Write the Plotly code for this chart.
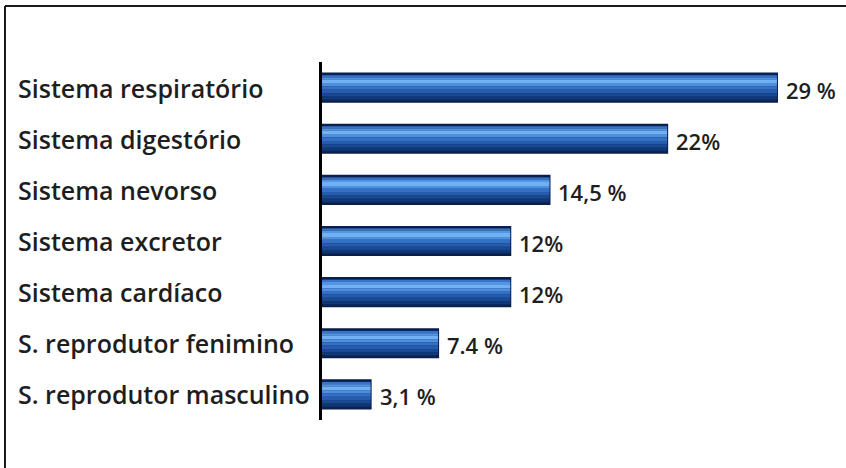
import plotly.graph_objects as go

categories = [
    "Sistema respiratório",
    "Sistema digestório",
    "Sistema nevorso",
    "Sistema excretor",
    "Sistema cardíaco",
    "S. reprodutor fenimino",
    "S. reprodutor masculino",
]
values = [29, 22, 14.5, 12, 12, 7.4, 3.1]
value_labels = ["29 %", "22%", "14,5 %", "12%", "12%", "7.4 %", "3,1 %"]

W, H = 846, 468
ML, MR, MT, MB = 322, 0, 62, 48
PW, PH = W - ML - MR, H - MT - MB

def px_x(px):
    return (px - ML) / PW

def px_y(py):
    return (H - MB - py) / PH

fig = go.Figure()

BW = 0.55
# base bar (dark navy with outline)
fig.add_trace(go.Bar(
    y=categories, x=values, orientation="h",
    width=BW, offset=-BW / 2,
    marker=dict(color="#0c2a62", line=dict(color="#0a1f4c", width=2)),
    cliponaxis=False, hoverinfo="skip", showlegend=False,
))
# gradient bands, fractions of bar height from top (axis reversed -> top = -BW/2)
bands = [
    (0.06, 0.14, "#3574c8"),
    (0.14, 0.22, "#5594e0"),
    (0.22, 0.36, "#70b0f4"),
    (0.36, 0.46, "#4f90dc"),
    (0.46, 0.58, "#3470c4"),
    (0.58, 0.70, "#255cae"),
    (0.70, 0.82, "#1a4994"),
    (0.82, 0.92, "#113876"),
]
for f0, f1, col in bands:
    fig.add_trace(go.Bar(
        y=categories, x=values, orientation="h",
        width=BW * (f1 - f0), offset=-BW / 2 + BW * f0,
        marker=dict(color=col, line=dict(width=0)),
        hoverinfo="skip", showlegend=False,
    ))

# value labels
for cat, v, lab in zip(categories, values, value_labels):
    fig.add_annotation(
        x=v, xref="x", y=cat, yref="y", text=lab, showarrow=False,
        xanchor="left", yanchor="middle", xshift=7, yshift=-2,
        font=dict(family="Open Sans", size=22, color="#1e1e1e", weight=600),
    )

# category labels, left aligned
for cat in categories:
    fig.add_annotation(
        x=px_x(16), xref="paper", y=cat, yref="y",
        text=cat, showarrow=False, xanchor="left", yanchor="middle",
        font=dict(family="Open Sans", size=25, color="#1e1e1e", weight=600),
    )

# frame lines (top and left)
fig.add_shape(type="line", xref="paper", yref="paper",
              x0=px_x(5), x1=px_x(846), y0=px_y(6), y1=px_y(6),
              line=dict(color="#1a1a1a", width=2))
fig.add_shape(type="line", xref="paper", yref="paper",
              x0=px_x(5), x1=px_x(5), y0=px_y(6), y1=px_y(468),
              line=dict(color="#1a1a1a", width=2))

fig.update_layout(
    width=W, height=H,
    margin=dict(l=ML, r=MR, t=MT, b=MB),
    paper_bgcolor="white", plot_bgcolor="white",
    barmode="overlay",
    xaxis=dict(range=[0, 33.4], visible=False, fixedrange=True),
    yaxis=dict(categoryorder="array", categoryarray=categories,
               autorange="reversed", showticklabels=False,
               showline=True, linecolor="black", linewidth=3,
               showgrid=False, zeroline=False, ticks=""),
)

fig.write_html("out.html")
